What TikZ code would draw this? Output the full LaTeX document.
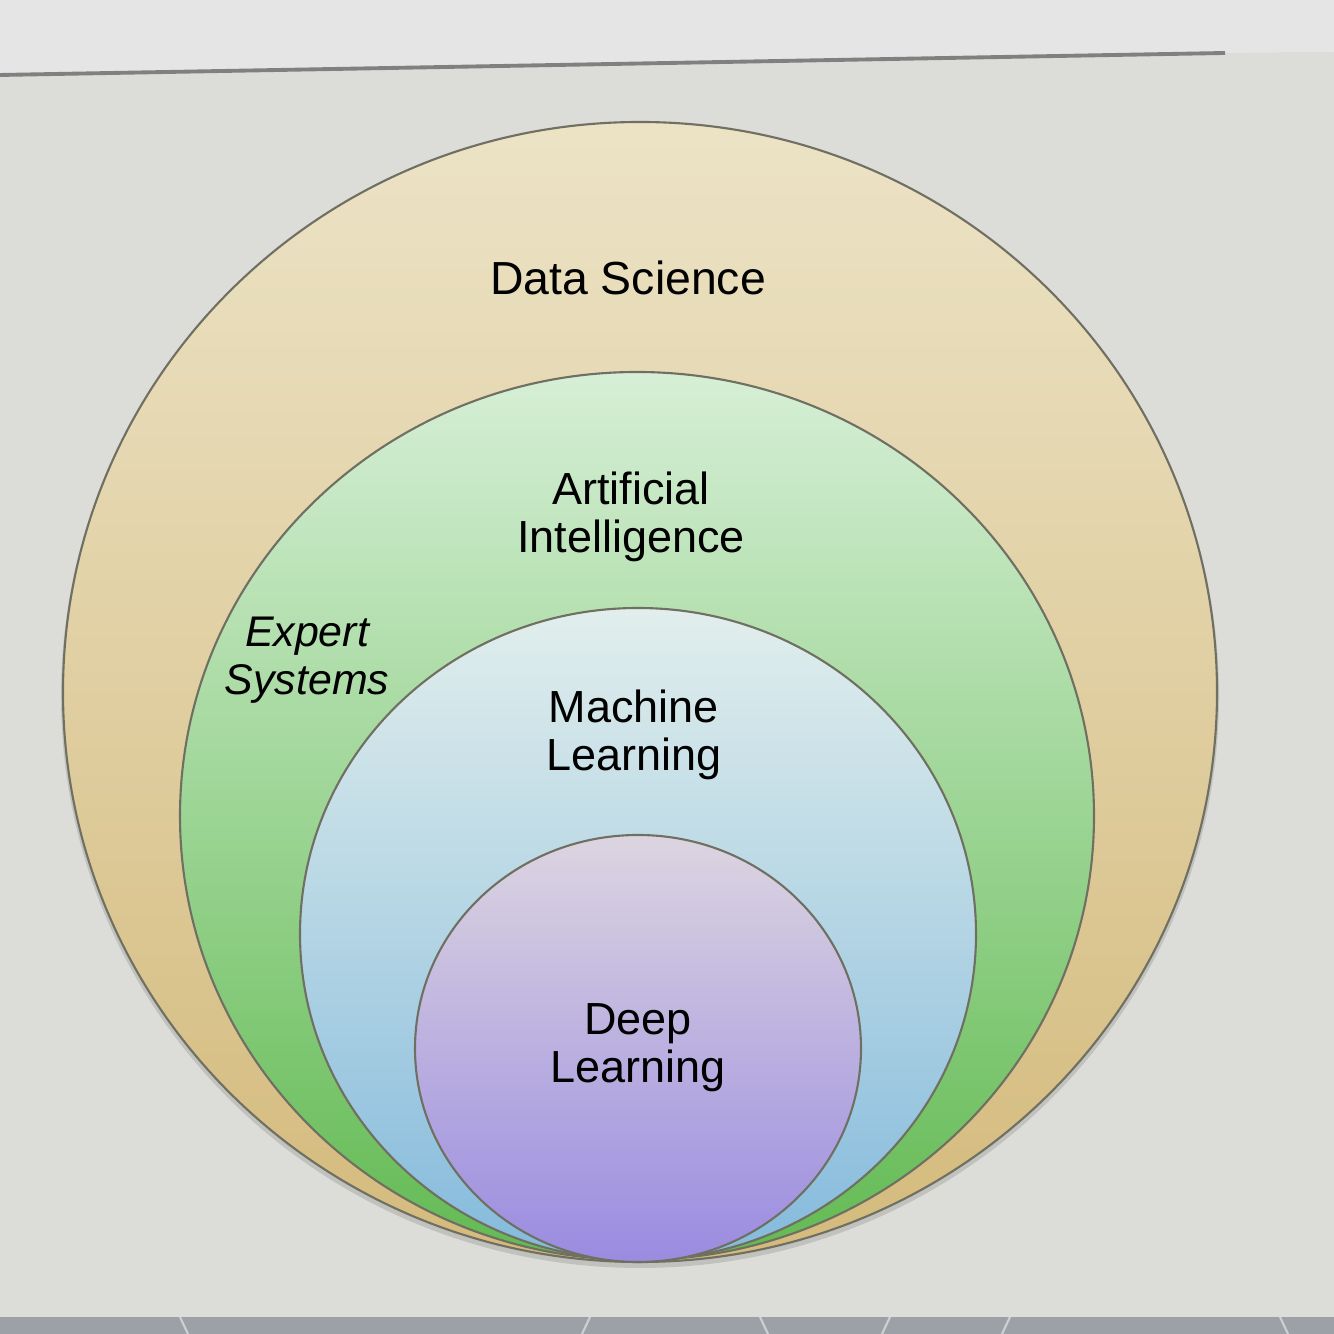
\documentclass[tikz,border=0pt]{standalone}
\usepackage{fontspec}
\setmainfont{Liberation Sans}
\usepackage{xcolor}
\usepackage{tikz}

\definecolor{wallHi}{HTML}{E4E5E4}
\definecolor{wallLo}{HTML}{DCDCD8}
\definecolor{bezel}{HTML}{9CA1A8}
\definecolor{rimLine}{HTML}{6F6F62}
\definecolor{dsTop}{HTML}{ECE3C6}
\definecolor{dsMid}{HTML}{E8D3A4}
\definecolor{dsBot}{HTML}{D4BA7C}
\definecolor{aiTop}{HTML}{D6EFD6}
\definecolor{aiMid}{HTML}{A9DB9A}
\definecolor{aiBot}{HTML}{62BA52}
\definecolor{mlTop}{HTML}{E1EEEC}
\definecolor{mlMid}{HTML}{BADCE4}
\definecolor{mlBot}{HTML}{84BADC}
\definecolor{dlTop}{HTML}{DCD5E0}
\definecolor{dlMid}{HTML}{C0B5DE}
\definecolor{dlBot}{HTML}{9A8BE0}

\tikzset{
  ring/.style={draw=rimLine, line width=0.6pt},
  lbl/.style={text=black, align=center, inner sep=0pt,
    font=\fontsize{12.8pt}{13.7pt}\selectfont},
}

\begin{document}
\begin{tikzpicture}
  \useasboundingbox (0,0) rectangle (13.34,13.34);
  % screen background
  \fill[wallLo] (0,0) rectangle (13.34,13.34);
  \fill[wallHi] (0,12.59) -- (12.25,12.81) -- (13.34,12.82) -- (13.34,13.34) -- (0,13.34) -- cycle;
  \draw[black!50, line width=1.1pt] (0,12.59) -- (12.25,12.81);
  % bezel at the bottom
  \fill[bezel] (0,0) rectangle (13.34,0.17);
  \foreach \x/\d in {1.8/0.08,5.9/-0.08,7.6/0.08,8.9/-0.08,10.1/-0.08,12.8/0.08} { \draw[white, opacity=0.5, line width=0.6pt] (\x,0.17) -- (\x+\d,0); }
  % soft shadow under the rings
  \fill[black, opacity=0.12] (6.40,6.38) ellipse [x radius=5.79, y radius=5.72];
  % nested rings
  \shadedraw[ring, top color=dsTop, middle color=dsMid, bottom color=dsBot] (6.40,6.42) ellipse [x radius=5.77, y radius=5.70];
  \shadedraw[ring, top color=aiTop, middle color=aiMid, bottom color=aiBot] (6.37,5.18) ellipse [x radius=4.57, y radius=4.44];
  \shadedraw[ring, top color=mlTop, middle color=mlMid, bottom color=mlBot] (6.38,4.00) ellipse [x radius=3.38, y radius=3.26];
  \shadedraw[ring, top color=dlTop, middle color=dlMid, bottom color=dlBot] (6.38,2.855) ellipse [x radius=2.23, y radius=2.135];
  % labels
  \node[lbl, font=\fontsize{13.2pt}{14pt}\selectfont] (ds) at (6.28,10.56) {Data Science};
  \node[lbl] (ai) at (6.31,8.17) {Artificial\\Intelligence};
  \node[lbl, font=\fontsize{12.2pt}{13.7pt}\selectfont\itshape] (es) at (3.07,6.74) {Expert\\Systems};
  \node[lbl] (ml) at (6.34,5.99) {Machine\\Learning};
  \node[lbl] (dl) at (6.38,2.86) {Deep\\Learning};
\end{tikzpicture}
\end{document}
